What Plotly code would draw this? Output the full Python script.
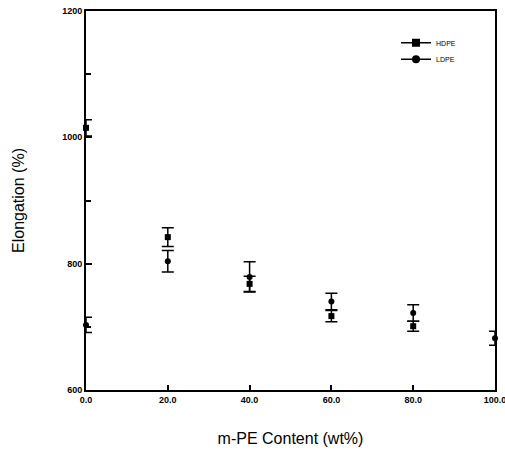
import plotly.graph_objects as go

content = [0, 20, 40, 60, 80, 100]
x_tick_labels = ["0.0", "20.0", "40.0", "60.0", "80.0", "100.0"]
y_tick_vals = [600, 800, 1000, 1200]
y_tick_labels = ["600", "800", "1000", "1200"]

hdpe_x = [0, 20, 40, 60, 80]
hdpe_y = [1015, 842, 768, 717, 701]
hdpe_err = [13, 15, 12, 9, 8]

ldpe_x = [0, 20, 40, 60, 80, 100]
ldpe_y = [703, 804, 779, 740, 722, 682]
ldpe_err = [12, 17, 24, 13, 13, 11]

fig = go.Figure()

fig.add_trace(go.Scatter(
    x=hdpe_x, y=hdpe_y, mode="markers", showlegend=False, cliponaxis=False,
    marker=dict(symbol="square", size=6, color="black"),
    error_y=dict(type="data", array=hdpe_err, color="black", thickness=1.5, width=6),
))
fig.add_trace(go.Scatter(
    x=ldpe_x, y=ldpe_y, mode="markers", showlegend=False, cliponaxis=False,
    marker=dict(symbol="circle", size=6, color="black"),
    error_y=dict(type="data", array=ldpe_err, color="black", thickness=1.5, width=6),
))
# legend entries
fig.add_trace(go.Scatter(
    x=[None], y=[None], mode="lines+markers", name="HDPE", legend="legend",
    marker=dict(symbol="square", size=8, color="black"),
    line=dict(color="black", width=1.5),
))
fig.add_trace(go.Scatter(
    x=[None], y=[None], mode="lines+markers", name="LDPE", legend="legend2",
    marker=dict(symbol="circle", size=8, color="black"),
    line=dict(color="black", width=1.5),
))

tick_font = dict(size=9, family="Liberation Sans Narrow, Liberation Sans, Arial", color="black")
leg_font = dict(size=7, family="Liberation Sans Narrow, Liberation Sans, Arial", color="black")

fig.update_layout(
    width=505, height=452,
    margin=dict(l=86, r=10, t=11, b=62, autoexpand=False),
    paper_bgcolor="white", plot_bgcolor="white",
    font=dict(family="Liberation Sans, Arial, sans-serif", color="black"),
    legend=dict(
        x=0.758, y=0.916, xanchor="left", yanchor="middle",
        font=leg_font, bgcolor="rgba(0,0,0,0)", itemwidth=30,
    ),
    legend2=dict(
        x=0.758, y=0.873, xanchor="left", yanchor="middle",
        font=leg_font, bgcolor="rgba(0,0,0,0)", itemwidth=30,
    ),
    showlegend=True,
)
fig.update_xaxes(
    range=[0, 100], tickvals=content, ticktext=["<b>%s</b>" % t for t in x_tick_labels],
    showline=True, linecolor="black", linewidth=2, mirror=True,
    ticks="inside", ticklen=5, tickcolor="black", tickwidth=1.5,
    showgrid=False, zeroline=False, automargin=False, ticklabeloverflow="allow",
    tickfont=tick_font,
    title=dict(text="m-PE Content (wt%)", font=dict(size=16, color="black"), standoff=29),
)
fig.update_yaxes(
    range=[600, 1200], tickvals=y_tick_vals, ticktext=["<b>%s</b>" % t for t in y_tick_labels],
    showline=True, linecolor="black", linewidth=2, mirror=True,
    ticks="inside", ticklen=6, tickcolor="black", tickwidth=1.5,
    minor=dict(dtick=100, ticks="inside", ticklen=5, tickcolor="black", tickwidth=1.5),
    showgrid=False, zeroline=False, automargin=False, ticklabeloverflow="allow",
    tickfont=tick_font,
    title=dict(text="Elongation (%)", font=dict(size=16, color="black"), standoff=34),
)

fig.write_html("out.html", config={"displayModeBar": False},
               post_script="document.body.style.margin='0';")
